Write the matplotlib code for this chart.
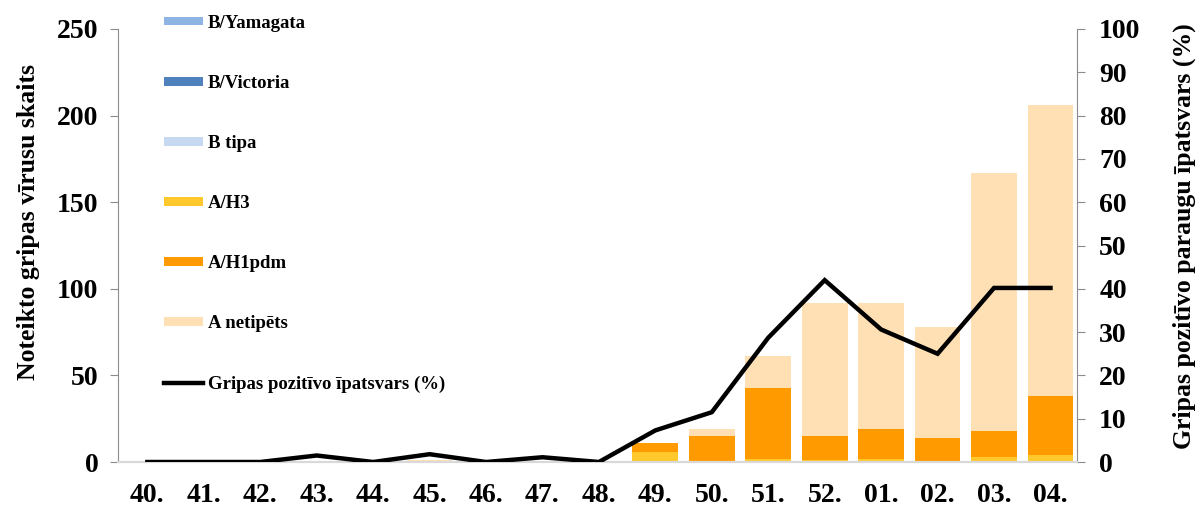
import numpy as np
import matplotlib.pyplot as plt

plt.rcParams['font.family'] = ['Liberation Serif', 'DejaVu Serif']
plt.rcParams['font.weight'] = 'bold'

# nedēļas
weeks = ['40.', '41.', '42.', '43.', '44.', '45.', '46.', '47.', '48.',
         '49.', '50.', '51.', '52.', '01.', '02.', '03.', '04.']

a_h3 =      [0, 0, 0, 0, 0, 0, 0, 0, 0, 6, 0, 2, 1, 2, 0, 3, 4]
a_h1pdm =   [0, 0, 0, 0, 0, 0, 0, 0, 0, 5, 15, 41, 14, 17, 14, 15, 34]
a_netip =   [0, 0, 0, 0, 1, 1, 0, 0, 0, 0, 4, 18, 77, 73, 64, 149, 168]
b_tipa =    [0] * 17
b_victoria = [0] * 17
b_yamagata = [0] * 17

pozit = [0, 0, 0, 1.5, 0, 1.8, 0, 1.1, 0, 7.3, 11.5, 28.7, 42, 30.6, 25, 40.2, 40.2]

x = np.arange(len(weeks))

fig = plt.figure(figsize=(11.97, 5.07), dpi=100)
ax = fig.add_axes([118/1197, 1 - 462/507, (1077-118)/1197, (462-29)/507])
ax2 = ax.twinx()

w = 0.81
series = [
    ('A/H3', a_h3, '#FFC82C'),
    ('A/H1pdm', a_h1pdm, '#FF9A00'),
    ('A netipēts', a_netip, '#FEE0B4'),
    ('B tipa', b_tipa, '#C6D9F1'),
    ('B/Victoria', b_victoria, '#4F81BD'),
    ('B/Yamagata', b_yamagata, '#8EB4E3'),
]
bottom = np.zeros(len(weeks))
bars = {}
for name, vals, col in series:
    b = ax.bar(x, vals, w, bottom=bottom, color=col, label=name, zorder=2)
    bottom += np.array(vals)
    bars[name] = b

ln, = ax2.plot(x, pozit, color='black', lw=3.2, solid_joinstyle='miter',
               label='Gripas pozitīvo īpatsvars (%)', zorder=5)

ax.set_xlim(-0.52, 16.47)
ax.set_ylim(0, 250)
ax2.set_ylim(0, 100)
ax.set_yticks(np.arange(0, 251, 50))
ax2.set_yticks(np.arange(0, 101, 10))
ax.set_xticks(x)
ax.set_xticklabels(weeks)

for a in (ax, ax2):
    a.spines['top'].set_visible(False)
    a.spines['left'].set_color('#8c8c8c')
    a.spines['right'].set_color('#8c8c8c')
    a.spines['bottom'].set_color('#d9d9d9')
    a.spines['bottom'].set_linewidth(1.5)
ax.spines['right'].set_visible(False)
ax2.spines['left'].set_visible(False)

ax.tick_params(axis='x', length=0, pad=15, labelsize=20)
ax.tick_params(axis='y', direction='out', length=6, color='#8c8c8c', pad=8, labelsize=20)
ax2.tick_params(axis='y', direction='out', length=6, color='#8c8c8c', pad=10, labelsize=20)

ax.set_ylabel('Noteikto gripas vīrusu skaits', fontsize=18.5, fontweight='bold')
ax2.set_ylabel('Gripas pozitīvo paraugu īpatsvars (%)', fontsize=18.5, fontweight='bold')
ax.yaxis.set_label_coords(-0.081, 0.555)
ax2.yaxis.set_label_coords(1.100, 0.522)

ax2.set_zorder(ax.get_zorder() + 1)
ax2.patch.set_visible(False)

order = ['B/Yamagata', 'B/Victoria', 'B tipa', 'A/H3', 'A/H1pdm', 'A netipēts']
leg_h = [bars[n] for n in order] + [ln]
leg_l = order + [ln.get_label()]
leg = ax2.legend(leg_h, leg_l, loc='upper left', bbox_to_anchor=(0.03, 1.072),
                 frameon=False, handlelength=2.1, handleheight=0.35,
                 labelspacing=2.3, handletextpad=0.25,
                 prop={'weight': 'bold', 'size': 13.5})

fig.savefig('out.png', dpi=100)
